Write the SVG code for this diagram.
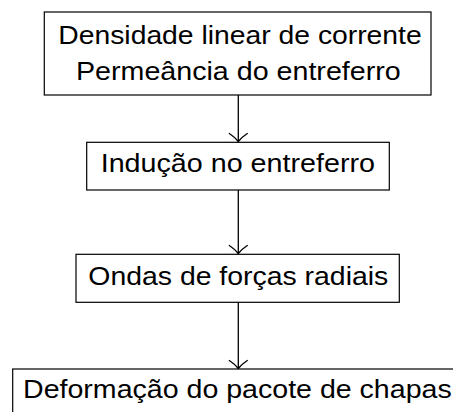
<svg xmlns="http://www.w3.org/2000/svg" width="453" height="412" viewBox="0 0 453 412">
<style>
.box{fill:#fff;stroke:#000;stroke-width:1.2}
.t{font-family:"Liberation Sans","DejaVu Sans",sans-serif;font-size:26px;fill:#000}
.c{fill:none;stroke:#000;stroke-width:1.3;stroke-linecap:round}
</style>
<defs>
<path id="head" d="M-9,-8 Q-3,-4 0,0 Q3,-4 9,-8" class="c"/>
</defs>
<g id="connectors">
<line class="c" x1="238.3" y1="95" x2="238.3" y2="141.5"/>
<use href="#head" x="238.3" y="141.5"/>
<line class="c" x1="238.3" y1="190" x2="238.3" y2="253.5"/>
<use href="#head" x="238.3" y="253.5"/>
<line class="c" x1="238.3" y1="302.3" x2="238.3" y2="368.5"/>
<use href="#head" x="238.3" y="368.5"/>
</g>
<g id="n1">
<rect class="box" x="44.3" y="12" width="386.7" height="83"/>
<text class="t" x="58.3" y="44" textLength="363.4" lengthAdjust="spacingAndGlyphs">Densidade linear de corrente</text>
<text class="t" x="76" y="80" textLength="324.7" lengthAdjust="spacingAndGlyphs">Permeância do entreferro</text>
</g>
<g id="n2">
<rect class="box" x="86.7" y="142.3" width="302.6" height="47.7"/>
<text class="t" x="100.7" y="171.7" textLength="274.3" lengthAdjust="spacingAndGlyphs">Indução no entreferro</text>
</g>
<g id="n3">
<rect class="box" x="76" y="254.3" width="323.3" height="48"/>
<text class="t" x="88.3" y="285" textLength="300" lengthAdjust="spacingAndGlyphs">Ondas de forças radiais</text>
</g>
<g id="n4">
<rect class="box" x="12.7" y="369" width="460" height="60"/>
<text class="t" x="23" y="397.7" textLength="428.7" lengthAdjust="spacingAndGlyphs">Deformação do pacote de chapas</text>
</g>
</svg>
